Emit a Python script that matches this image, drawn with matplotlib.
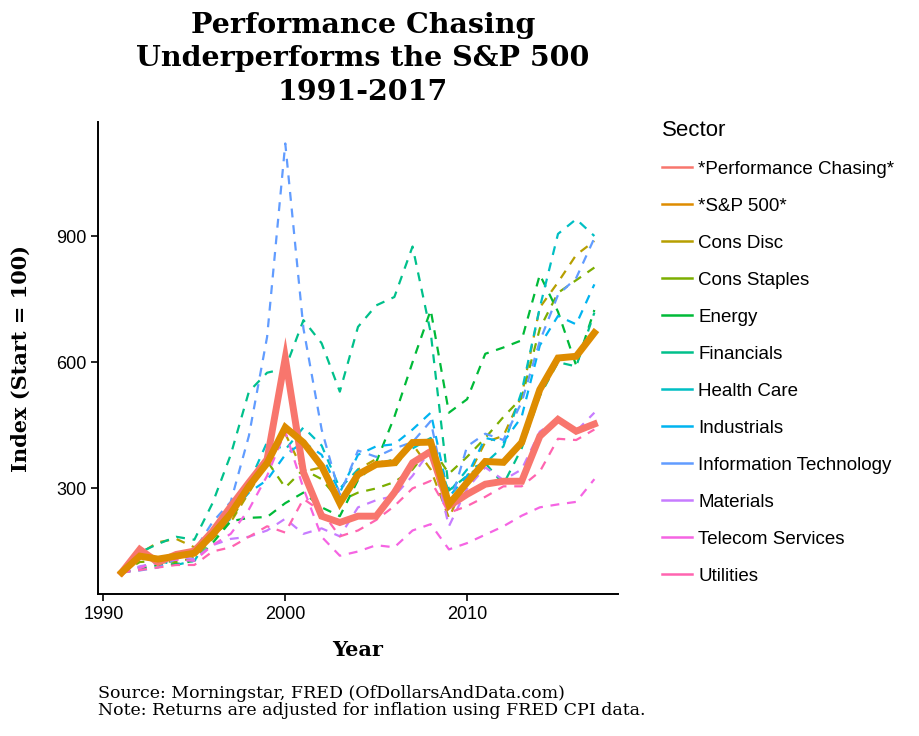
import matplotlib
matplotlib.use("Agg")
import matplotlib.pyplot as plt
from matplotlib.lines import Line2D

# index values (start = 100), one point per year
years = list(range(1991, 2018))

perf_chasing = [100, 155, 124, 143, 151, 198, 257, 314, 369, 610, 338, 234, 219, 234,
                234, 290, 361, 388, 258, 286, 310, 317, 317, 424, 464, 436, 453]
sp500 = [100, 139, 132, 139, 146, 190, 240, 305, 360, 445, 409, 353, 265, 333,
         357, 361, 409, 410, 262, 314, 364, 362, 409, 535, 610, 614, 670]
cons_disc = [100, 145, 172, 180, 160, 190, 220, 290, 360, 430, 340, 350, 265, 345,
             370, 350, 405, 345, 230, 325, 410, 425, 520, 730, 790, 855, 888]
cons_staples = [100, 125, 128, 125, 135, 180, 222, 300, 365, 302, 345, 322, 270, 290,
                300, 315, 345, 400, 335, 375, 420, 470, 515, 680, 765, 795, 825]
energy = [100, 108, 118, 120, 128, 170, 222, 230, 232, 265, 290, 255, 234, 320,
          362, 470, 600, 724, 480, 512, 620, 635, 652, 808, 720, 592, 724]
financials = [100, 148, 168, 185, 178, 265, 380, 530, 575, 585, 700, 645, 530, 684,
              735, 755, 875, 670, 295, 330, 360, 310, 395, 520, 600, 590, 718]
health_care = [100, 152, 128, 118, 128, 192, 228, 312, 410, 392, 445, 402, 300, 345,
               355, 370, 395, 420, 290, 345, 360, 400, 530, 730, 905, 940, 900]
industrials = [100, 112, 128, 140, 142, 190, 240, 290, 320, 380, 410, 380, 290, 380,
               400, 405, 440, 480, 280, 330, 420, 410, 470, 640, 710, 690, 785]
info_tech = [100, 105, 112, 132, 152, 220, 268, 425, 660, 1120, 680, 440, 285, 390,
             375, 395, 410, 460, 252, 400, 430, 415, 505, 650, 760, 800, 895]
materials = [100, 115, 122, 138, 132, 165, 180, 185, 200, 228, 192, 205, 186, 255,
             272, 282, 330, 392, 210, 300, 350, 320, 345, 435, 464, 436, 480]
telecom = [100, 110, 128, 130, 128, 165, 192, 250, 330, 435, 300, 185, 140, 150,
           165, 160, 200, 215, 155, 170, 190, 210, 235, 255, 262, 268, 322]
utilities = [100, 106, 112, 118, 118, 150, 160, 185, 210, 195, 275, 245, 186, 200,
             225, 258, 300, 318, 242, 258, 280, 305, 305, 340, 418, 415, 440]

sector_names = ["*Performance Chasing*", "*S&P 500*", "Cons Disc", "Cons Staples",
                "Energy", "Financials", "Health Care", "Industrials",
                "Information Technology", "Materials", "Telecom Services", "Utilities"]
sector_values = [perf_chasing, sp500, cons_disc, cons_staples, energy, financials,
                 health_care, industrials, info_tech, materials, telecom, utilities]

# ggplot default hue palette for 12 levels
colors = ["#F8766D", "#DE8C00", "#B79F00", "#7CAE00", "#00BA38", "#00C08B",
          "#00BFC4", "#00B4F0", "#619CFF", "#C77CFF", "#F564E3", "#FF64B0"]

fig = plt.figure(figsize=(9.2, 7.36), dpi=100)
ax = fig.add_axes([98 / 920, 1 - 594 / 736, 520 / 920, 472 / 736])

# sectors as dashed lines first, the two highlighted series on top
for name, vals, c in zip(sector_names[2:], sector_values[2:], colors[2:]):
    ax.plot(years, vals, color=c, lw=1.6, dashes=(4, 3.5))
ax.plot(years, perf_chasing, color=colors[0], lw=5, solid_joinstyle="miter")
ax.plot(years, sp500, color=colors[1], lw=5, solid_joinstyle="miter")

ax.margins(x=0.05, y=0.05)
ax.set_xticks([1990, 2000, 2010])
ax.set_yticks([300, 600, 900])
for side in ["top", "right"]:
    ax.spines[side].set_visible(False)
for side in ["left", "bottom"]:
    ax.spines[side].set_linewidth(1.4)
ax.tick_params(length=5, width=1.2, labelsize=13, colors="black")
for lab in ax.get_xticklabels() + ax.get_yticklabels():
    lab.set_family("Liberation Sans")

serif = "DejaVu Serif"
fig.text(363 / 920, 1 - 12 / 736,
         "Performance Chasing\nUnderperforms the S&P 500\n1991-2017",
         ha="center", va="top", family=serif, weight="bold", size=20.5, linespacing=1.3)
fig.text(358 / 920, 1 - 650 / 736, "Year", ha="center", va="center",
         family=serif, weight="bold", size=15)
fig.text(21 / 920, 1 - 358 / 736, "Index (Start = 100)", ha="center", va="center",
         rotation=90, family=serif, size=15, weight="bold")
fig.text(98 / 920, 1 - 685 / 736,
         "Source: Morningstar, FRED (OfDollarsAndData.com)\n"
         "Note: Returns are adjusted for inflation using FRED CPI data.",
         ha="left", va="top", family=serif, size=12.5, linespacing=1.0)

handles = [Line2D([], [], color=c, lw=1.8) for c in colors]
leg = fig.legend(handles, sector_names, loc="upper left",
                 bbox_to_anchor=(645 / 920, 1 - 103 / 736), frameon=False,
                 title="Sector", alignment="left", handlelength=1.6,
                 handletextpad=0.35, labelspacing=1.06,
                 prop={"family": "Liberation Sans", "size": 13.5})
leg.get_title().set_family("Liberation Sans")
leg.get_title().set_fontsize(16)

fig.savefig("out.png", dpi=100)
